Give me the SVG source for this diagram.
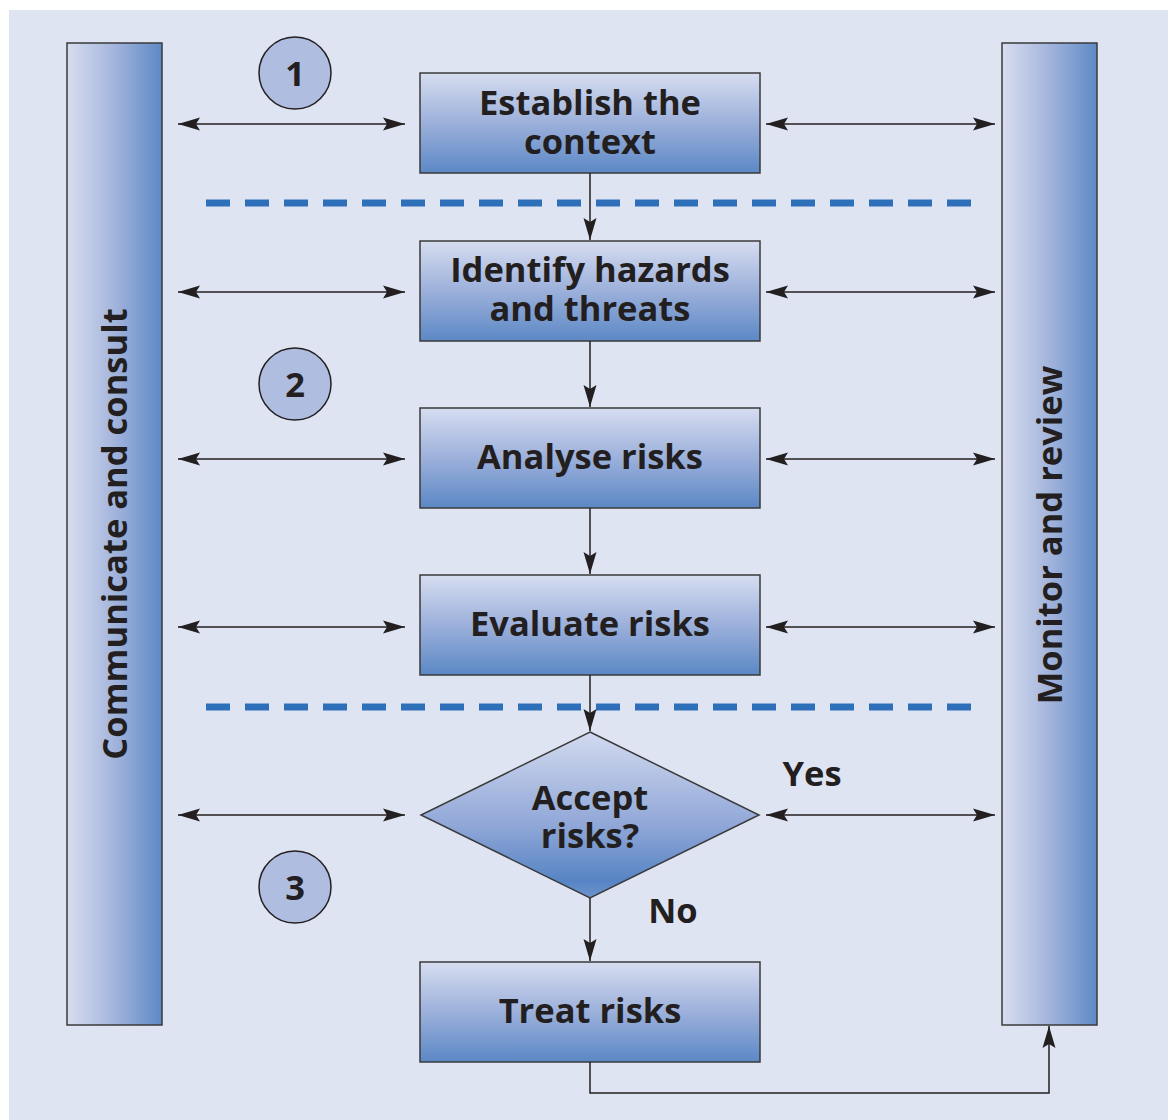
<svg xmlns="http://www.w3.org/2000/svg" width="1168" height="1120" viewBox="0 0 1168 1120">
<style>
.box{stroke:#3a3a3a;stroke-width:1.5}
.bar{stroke:#3a3a3a;stroke-width:1.5}
.t{font-family:"Open Sans","Noto Sans","Liberation Sans",sans-serif;font-weight:bold;font-size:34.5px;fill:#231f20;text-anchor:middle}
.c{fill:#aebde0;stroke:#231f20;stroke-width:1.5}
.ln{stroke:#231f20;stroke-width:1.5;fill:none}
.dash{stroke:#2e6fba;stroke-width:7;stroke-dasharray:24 15;fill:none}
</style>
<defs>
<linearGradient id="gv" x1="0" y1="0" x2="0" y2="1">
<stop offset="0" stop-color="#d6ddf0"/>
<stop offset="0.5" stop-color="#9cb0db"/>
<stop offset="1" stop-color="#5b88c5"/>
</linearGradient>
<linearGradient id="gd" x1="0" y1="0" x2="0" y2="1">
<stop offset="0" stop-color="#d2daef"/>
<stop offset="0.55" stop-color="#92a8d8"/>
<stop offset="0.9" stop-color="#5684c4"/>
<stop offset="1" stop-color="#6e95cd"/>
</linearGradient>
<linearGradient id="gh" x1="0" y1="0" x2="1" y2="0">
<stop offset="0" stop-color="#d8def0"/>
<stop offset="0.5" stop-color="#a3b4dc"/>
<stop offset="1" stop-color="#5d89c5"/>
</linearGradient>
<marker id="ah" viewBox="-23 -7 24 14" refX="0" refY="0" markerWidth="24" markerHeight="14" markerUnits="userSpaceOnUse" orient="auto-start-reverse">
<path d="M0,0 L-22,-6.5 L-18,0 L-22,6.5 Z" fill="#231f20"/>
</marker>
</defs>
<rect x="0" y="0" width="1168" height="1120" fill="#ffffff"/>
<rect x="9" y="10" width="1159" height="1110" fill="#dfe4f2"/>

<g id="communicate">
<rect class="bar" x="67" y="43" width="95" height="982" fill="url(#gh)"/>
<text class="t" transform="translate(127,534) rotate(-90)">Communicate and consult</text>
</g>
<g id="monitor">
<rect class="bar" x="1002" y="43" width="95" height="982" fill="url(#gh)"/>
<text class="t" transform="translate(1062,535) rotate(-90)">Monitor and review</text>
</g>

<g id="circle1"><circle class="c" cx="295" cy="73" r="36"/><text class="t" x="295" y="86">1</text></g>
<g id="circle2"><circle class="c" cx="295" cy="384" r="36"/><text class="t" x="295" y="397">2</text></g>
<g id="circle3"><circle class="c" cx="295" cy="887" r="36"/><text class="t" x="295" y="900">3</text></g>

<g id="dividers">
<line class="dash" x1="206" y1="203" x2="975" y2="203"/>
<line class="dash" x1="206" y1="707" x2="975" y2="707"/>
</g>

<g id="establish"><rect class="box" x="420" y="73" width="340" height="100" fill="url(#gv)"/>
<text class="t" x="590" y="115">Establish the<tspan x="590" dy="39">context</tspan></text></g>
<g id="identify"><rect class="box" x="420" y="241" width="340" height="100" fill="url(#gv)"/>
<text class="t" x="590" y="282">Identify hazards<tspan x="590" dy="39">and threats</tspan></text></g>
<g id="analyse"><rect class="box" x="420" y="408" width="340" height="100" fill="url(#gv)"/>
<text class="t" x="590" y="469">Analyse risks</text></g>
<g id="evaluate"><rect class="box" x="420" y="575" width="340" height="100" fill="url(#gv)"/>
<text class="t" x="590" y="636">Evaluate risks</text></g>
<g id="accept"><polygon class="box" points="590,732 759,815 590,898 421,815" fill="url(#gd)"/>
<text class="t" x="590" y="810">Accept<tspan x="590" dy="38">risks?</tspan></text></g>
<g id="treat"><rect class="box" x="420" y="962" width="340" height="100" fill="url(#gv)"/>
<text class="t" x="590" y="1023">Treat risks</text></g>

<g id="labels">
<text class="t" x="812" y="786">Yes</text>
<text class="t" x="673" y="923">No</text>
</g>

<g id="connectors">
<line class="ln" x1="178" y1="124" x2="405" y2="124" marker-start="url(#ah)" marker-end="url(#ah)"/>
<line class="ln" x1="766" y1="124" x2="995" y2="124" marker-start="url(#ah)" marker-end="url(#ah)"/>
<line class="ln" x1="178" y1="292" x2="405" y2="292" marker-start="url(#ah)" marker-end="url(#ah)"/>
<line class="ln" x1="766" y1="292" x2="995" y2="292" marker-start="url(#ah)" marker-end="url(#ah)"/>
<line class="ln" x1="178" y1="459" x2="405" y2="459" marker-start="url(#ah)" marker-end="url(#ah)"/>
<line class="ln" x1="766" y1="459" x2="995" y2="459" marker-start="url(#ah)" marker-end="url(#ah)"/>
<line class="ln" x1="178" y1="627" x2="405" y2="627" marker-start="url(#ah)" marker-end="url(#ah)"/>
<line class="ln" x1="766" y1="627" x2="995" y2="627" marker-start="url(#ah)" marker-end="url(#ah)"/>
<line class="ln" x1="178" y1="815" x2="405" y2="815" marker-start="url(#ah)" marker-end="url(#ah)"/>
<line class="ln" x1="766" y1="815" x2="995" y2="815" marker-start="url(#ah)" marker-end="url(#ah)"/>
<line class="ln" x1="590" y1="173" x2="590" y2="240" marker-end="url(#ah)"/>
<line class="ln" x1="590" y1="341" x2="590" y2="407" marker-end="url(#ah)"/>
<line class="ln" x1="590" y1="508" x2="590" y2="574" marker-end="url(#ah)"/>
<line class="ln" x1="590" y1="675" x2="590" y2="731" marker-end="url(#ah)"/>
<line class="ln" x1="590" y1="898" x2="590" y2="961" marker-end="url(#ah)"/>
<polyline class="ln" points="590,1062 590,1093 1049,1093 1049,1026" marker-end="url(#ah)"/>
</g>
</svg>
